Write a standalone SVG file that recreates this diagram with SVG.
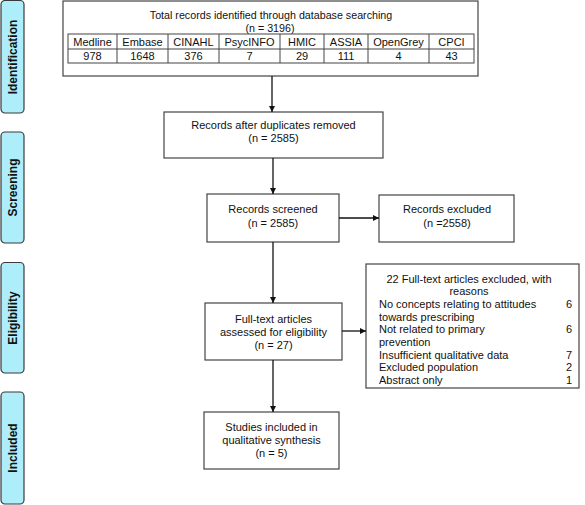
<svg xmlns="http://www.w3.org/2000/svg" width="585" height="505" viewBox="0 0 585 505">
  <style>
    .box { fill: #ffffff; stroke: #444444; stroke-width: 1.2; }
    .tbl { fill: none; stroke: #444444; stroke-width: 1; }
    .stage { fill: #aeeefa; stroke: #3a3a3a; stroke-width: 1.2; }
    .t { font-family: "Liberation Sans", Arial, sans-serif; font-size: 11px; fill: #111111; }
    .tc { text-anchor: middle; }
    .tr { text-anchor: end; }
    .lab { font-family: "Liberation Sans", Arial, sans-serif; font-size: 12px; font-weight: bold; fill: #111111; text-anchor: middle; }
    .conn { stroke: #111111; stroke-width: 1.3; fill: none; marker-end: url(#arrow); }
  </style>
  <defs>
    <marker id="arrow" viewBox="0 0 10 10" refX="10" refY="5" markerUnits="userSpaceOnUse" markerWidth="6.5" markerHeight="6.5" orient="auto">
      <path d="M0,0 L10,5 L0,10 z" fill="#111111"/>
    </marker>
  </defs>

  <g id="stage-identification">
    <rect class="stage" x="1" y="0.5" width="23" height="112.5" rx="4"/>
    <text class="lab" transform="translate(17,57) rotate(-90)">Identification</text>
  </g>
  <g id="stage-screening">
    <rect class="stage" x="1" y="132" width="23" height="111" rx="4"/>
    <text class="lab" transform="translate(17,187.5) rotate(-90)">Screening</text>
  </g>
  <g id="stage-eligibility">
    <rect class="stage" x="1" y="262.5" width="23" height="110.5" rx="4"/>
    <text class="lab" transform="translate(17,318) rotate(-90)">Eligibility</text>
  </g>
  <g id="stage-included">
    <rect class="stage" x="1" y="392" width="23" height="112" rx="4"/>
    <text class="lab" transform="translate(17,448) rotate(-90)">Included</text>
  </g>

  <g id="node-identified">
    <rect class="box" x="63" y="1" width="415" height="75"/>
    <text class="t tc" x="271" y="19" style="font-size:10.7px">Total records identified through database searching</text>
    <text class="t tc" x="270" y="32" style="font-size:10.7px">(n = 3196)</text>
    <rect class="tbl" x="68" y="34" width="406" height="29"/>
    <line class="tbl" x1="68" y1="49" x2="474" y2="49"/>
    <line class="tbl" x1="117" y1="34" x2="117" y2="63"/>
    <line class="tbl" x1="168" y1="34" x2="168" y2="63"/>
    <line class="tbl" x1="219" y1="34" x2="219" y2="63"/>
    <line class="tbl" x1="280" y1="34" x2="280" y2="63"/>
    <line class="tbl" x1="324" y1="34" x2="324" y2="63"/>
    <line class="tbl" x1="368" y1="34" x2="368" y2="63"/>
    <line class="tbl" x1="429" y1="34" x2="429" y2="63"/>
    <text class="t tc" x="92.5" y="46">Medline</text>
    <text class="t tc" x="142.5" y="46">Embase</text>
    <text class="t tc" x="193.5" y="46">CINAHL</text>
    <text class="t tc" x="249.5" y="46">PsycINFO</text>
    <text class="t tc" x="302" y="46">HMIC</text>
    <text class="t tc" x="346" y="46">ASSIA</text>
    <text class="t tc" x="398.5" y="46">OpenGrey</text>
    <text class="t tc" x="451.5" y="46">CPCI</text>
    <text class="t tc" x="92.5" y="60">978</text>
    <text class="t tc" x="142.5" y="60">1648</text>
    <text class="t tc" x="193.5" y="60">376</text>
    <text class="t tc" x="249.5" y="60">7</text>
    <text class="t tc" x="302" y="60">29</text>
    <text class="t tc" x="346" y="60">111</text>
    <text class="t tc" x="398.5" y="60">4</text>
    <text class="t tc" x="451.5" y="60">43</text>
  </g>

  <g id="node-deduplicated">
    <rect class="box" x="164" y="112" width="219" height="46"/>
    <text class="t tc" x="273.5" y="129">Records after duplicates removed</text>
    <text class="t tc" x="273.5" y="142">(n = 2585)</text>
  </g>

  <g id="node-screened">
    <rect class="box" x="207" y="194" width="132" height="48"/>
    <text class="t tc" x="273" y="213">Records screened</text>
    <text class="t tc" x="273" y="227">(n = 2585)</text>
  </g>

  <g id="node-excluded">
    <rect class="box" x="379" y="195" width="135" height="47"/>
    <text class="t tc" x="447" y="213">Records excluded</text>
    <text class="t tc" x="447" y="227">(n =2558)</text>
  </g>

  <g id="node-fulltext">
    <rect class="box" x="205" y="303" width="137" height="57"/>
    <text class="t tc" x="273.5" y="323">Full-text articles</text>
    <text class="t tc" x="273.5" y="336">assessed for eligibility</text>
    <text class="t tc" x="273.5" y="349">(n = 27)</text>
  </g>

  <g id="node-reasons">
    <rect class="box" x="366" y="264" width="213" height="124"/>
    <text class="t tc" x="469" y="283">22 Full-text articles excluded, with</text>
    <text class="t tc" x="469" y="295">reasons</text>
    <text class="t" x="379" y="308">No concepts relating to attitudes</text>
    <text class="t tr" x="572" y="308">6</text>
    <text class="t" x="379" y="321">towards prescribing</text>
    <text class="t" x="379" y="333">Not related to primary</text>
    <text class="t tr" x="572" y="333">6</text>
    <text class="t" x="379" y="346">prevention</text>
    <text class="t" x="379" y="359">Insufficient qualitative data</text>
    <text class="t tr" x="572" y="359">7</text>
    <text class="t" x="379" y="371">Excluded population</text>
    <text class="t tr" x="572" y="371">2</text>
    <text class="t" x="379" y="384">Abstract only</text>
    <text class="t tr" x="572" y="384">1</text>
  </g>

  <g id="node-included">
    <rect class="box" x="204" y="412" width="135" height="57"/>
    <text class="t tc" x="271.5" y="431">Studies included in</text>
    <text class="t tc" x="271.5" y="444">qualitative synthesis</text>
    <text class="t tc" x="271.5" y="457">(n = 5)</text>
  </g>

  <g id="connectors">
    <line class="conn" x1="272" y1="76" x2="272" y2="112"/>
    <line class="conn" x1="273" y1="158" x2="273" y2="194"/>
    <line class="conn" x1="339" y1="218" x2="379" y2="218"/>
    <line class="conn" x1="273" y1="242" x2="273" y2="303"/>
    <line class="conn" x1="342" y1="331" x2="366" y2="331"/>
    <line class="conn" x1="273" y1="360" x2="273" y2="412"/>
  </g>
</svg>
